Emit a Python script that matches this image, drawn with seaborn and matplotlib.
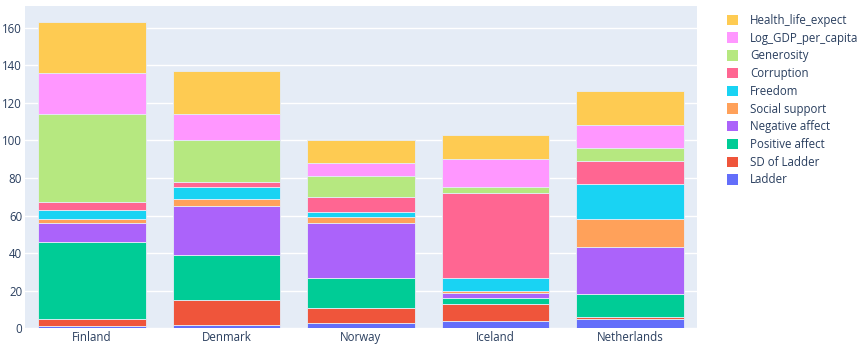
import numpy as np
import pandas as pd
import seaborn as sns
import matplotlib.pyplot as plt
from matplotlib.patches import Patch

countries = ["Finland", "Denmark", "Norway", "Iceland", "Netherlands"]

ladder = [1, 2, 3, 4, 5]
sd_ladder = [4, 13, 8, 9, 1]
positive_affect = [41, 24, 16, 3, 12]
negative_affect = [10, 26, 29, 3, 25]
social_support = [2, 4, 3, 1, 15]
freedom = [5, 6, 3, 7, 19]
corruption = [4, 3, 8, 45, 12]
generosity = [47, 22, 11, 3, 7]
log_gdp = [22, 14, 7, 15, 12]
health = [27, 23, 12, 13, 18]

series = [
    ("Ladder", ladder, "#636EFA"),
    ("SD of Ladder", sd_ladder, "#EF553B"),
    ("Positive affect", positive_affect, "#00CC96"),
    ("Negative affect", negative_affect, "#AB63FA"),
    ("Social support", social_support, "#FFA15A"),
    ("Freedom", freedom, "#19D3F3"),
    ("Corruption", corruption, "#FF6692"),
    ("Generosity", generosity, "#B6E880"),
    ("Log_GDP_per_capita", log_gdp, "#FF97FF"),
    ("Health_life_expect", health, "#FECB52"),
]

sns.set_style("white")
plt.rcParams["font.family"] = ["Open Sans", "DejaVu Sans"]
text_col = "#2a3f5f"

fig = plt.figure(figsize=(8.59, 3.5), dpi=100)
ax = fig.add_axes([0.0290, 0.062, 0.7824, 0.921])
ax.set_facecolor("#E5ECF6")

bottom = np.zeros(len(countries))
handles = []
for name, vals, col in series:
    sns.barplot(x=countries, y=vals, bottom=bottom, color=col, width=0.8,
                edgecolor="#E5ECF6", linewidth=0.6, ax=ax, saturation=1)
    bottom = bottom + np.array(vals)
    handles.append(Patch(facecolor=col, edgecolor="none", label=name))

ax.set_ylim(0, 171.5)
ax.set_xlim(-0.5, 4.5)
ax.set_yticks(range(0, 161, 20))
ax.yaxis.grid(True, color="white", linewidth=1)
ax.set_axisbelow(True)
for s in ax.spines.values():
    s.set_visible(False)
ax.tick_params(axis="both", length=0, labelsize=8.3, labelcolor=text_col)
ax.tick_params(axis="y", pad=2)
ax.tick_params(axis="x", pad=2)
ax.set_xlabel("")
ax.set_ylabel("")

fig.legend(handles=handles[::-1], loc="upper left", bbox_to_anchor=(0.834, 0.99),
           frameon=False, fontsize=8.3, labelcolor=text_col, handlelength=1.0,
           handleheight=1.0, labelspacing=0.41, handletextpad=1.0)

plt.savefig("out.png", dpi=100)
